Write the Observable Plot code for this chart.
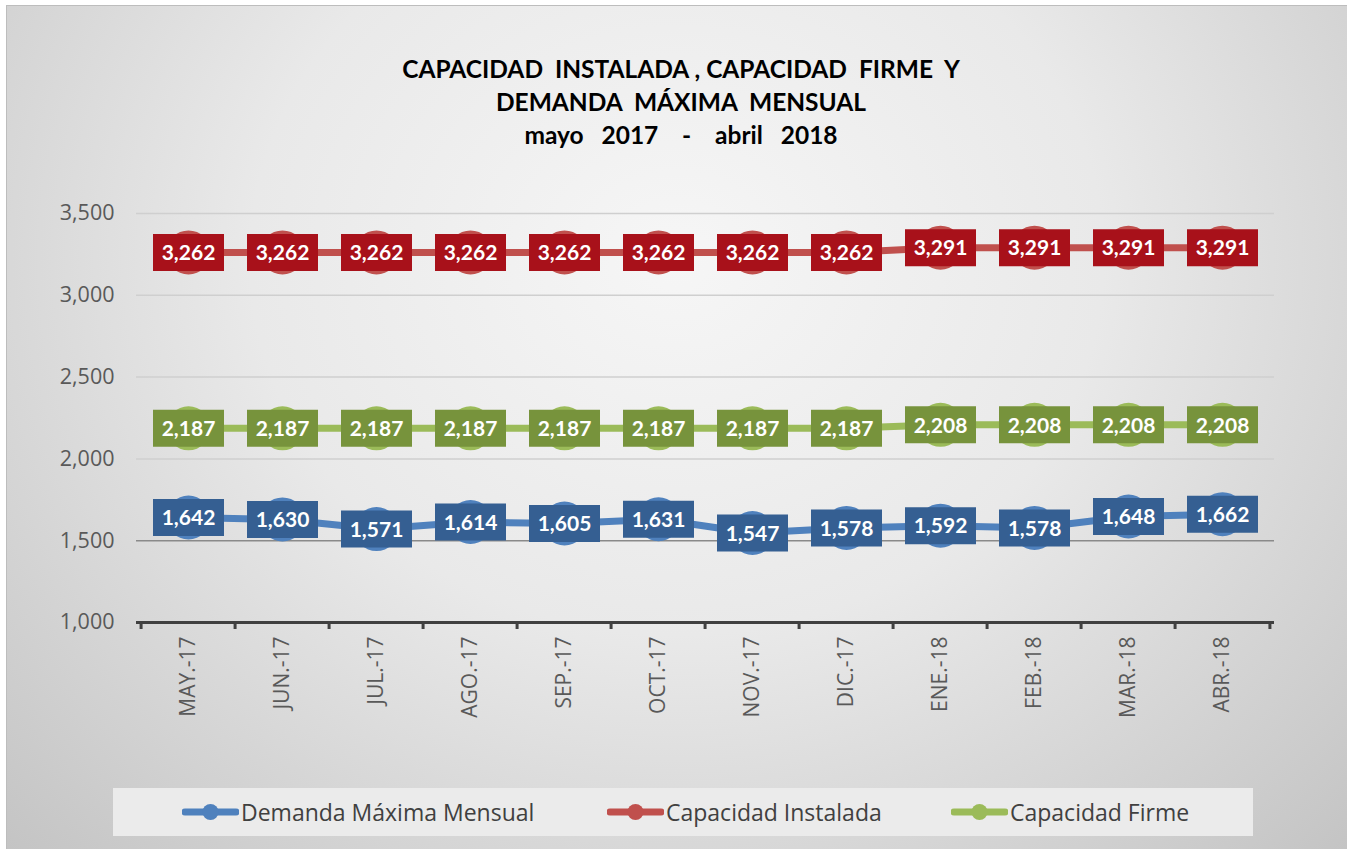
<!DOCTYPE html>
<html>
<head>
<meta charset="utf-8">
<script src="https://cdn.jsdelivr.net/npm/d3@7"></script>
<script src="https://cdn.jsdelivr.net/npm/@observablehq/plot@0.6"></script>
<style>
  html, body { margin: 0; padding: 0; background: #ffffff; }
  #frame {
    position: absolute; left: 6px; top: 5px; width: 1340px; height: 843px;
    background: radial-gradient(ellipse farthest-corner at 50% 30%, #f6f6f6 0%, #e9e9e9 45%, #c4c4c4 100%);
    border-left: 1px solid #bdbdbd; border-top: 1px solid #bdbdbd;
    overflow: hidden;
  }
  #title {
    position: absolute; left: 0; top: 46px; width: 1348px; text-align: center;
    font-family: Lato, sans-serif; font-weight: bold; font-size: 24.5px; line-height: 33px;
    color: #000; white-space: pre;
  }
  #chart { position: absolute; left: 0; top: 175px; }
  #legend {
    position: absolute; left: 106px; top: 782px; width: 1140px; height: 48px;
    background: #ebebeb;
    font-family: "Open Sans", sans-serif; font-size: 23px; color: #404040;
  }
  .item { position: absolute; top: 0; height: 48px; display: flex; align-items: center; }
  .item svg { margin-right: 2px; }
</style>
</head>
<body>
<div id="frame">
  <div id="title">CAPACIDAD  INSTALADA , CAPACIDAD  FIRME  Y
DEMANDA  MÁXIMA  MENSUAL
mayo   2017    -    abril   2018</div>
  <div id="chart"></div>
  <div id="legend"></div>
</div>
<script>
const months = ["MAY.-17","JUN.-17","JUL.-17","AGO.-17","SEP.-17","OCT.-17","NOV.-17","DIC.-17","ENE.-18","FEB.-18","MAR.-18","ABR.-18"];
const demanda = [1642,1630,1571,1614,1605,1631,1547,1578,1592,1578,1648,1662];
const instalada = [3262,3262,3262,3262,3262,3262,3262,3262,3291,3291,3291,3291];
const firme = [2187,2187,2187,2187,2187,2187,2187,2187,2208,2208,2208,2208];
const seriesNames = ["Demanda Máxima Mensual","Capacidad Instalada","Capacidad Firme"];
const yTicks = [1000,1500,2000,2500,3000,3500];

const lineColors = ["#4f81bd","#c0504d","#9bbb59"];
const boxColors = ["#355f92","#a8111a","#77933c"];

const seriesValues = [demanda, instalada, firme];
const rows = [];
seriesValues.forEach((vals, s) => vals.forEach((v, i) => rows.push({series: seriesNames[s], s, month: months[i], value: v})));

const W = 1340, H = 580, mL = 129, mR = 73, mT = 32, mB = 139;
const bw = (W - mL - mR) / months.length;

const boxSymbol = { draw(ctx) { ctx.rect(-35.5, -18.5, 71, 37); } };

const marks = [
  Plot.ruleY(yTicks.filter(t => t !== 1000 && t !== 1500), {stroke: "#cfcfcf", strokeWidth: 1.5}),
  Plot.ruleY([1500], {stroke: "#8a8a8a", strokeWidth: 1.5}),
  Plot.axisY({ticks: yTicks, tickSize: 0, tickPadding: 22, fontSize: 21.5, fill: "#595959", tickFormat: d3.format(","), label: null}),
  Plot.axisX({tickSize: 0, tickRotate: -90, tickPadding: 14, fontSize: 21, fill: "#595959", label: null}),
  Plot.ruleY([1000], {stroke: "#404040", strokeWidth: 3}),
  Plot.ruleX(months, {x: d => d, dx: -bw / 2, y1: 1000, y2: 1000, insetBottom: -7, stroke: "#404040", strokeWidth: 3}),
  Plot.ruleX(months.slice(-1), {x: d => d, dx: bw / 2, y1: 1000, y2: 1000, insetBottom: -7, stroke: "#404040", strokeWidth: 3})
];
seriesNames.forEach((name, s) => {
  const d = rows.filter(r => r.s === s);
  marks.push(Plot.line(d, {x: "month", y: "value", stroke: lineColors[s], strokeWidth: 7}));
  marks.push(Plot.dot(d, {x: "month", y: "value", r: 22, fill: lineColors[s], stroke: "none"}));
  marks.push(Plot.dot(d, {x: "month", y: "value", symbol: boxSymbol, r: 5, fill: boxColors[s], stroke: "none"}));
  marks.push(Plot.text(d, {x: "month", y: "value", text: r => d3.format(",")(r.value), fill: "white", fontSize: 21, fontWeight: "bold", fontFamily: "Lato", dy: 1}));
});

const chart = Plot.plot({
  width: W, height: H, marginTop: mT, marginBottom: mB, marginLeft: mL, marginRight: mR,
  style: {background: "transparent", fontFamily: "Open Sans", overflow: "visible"},
  x: {type: "band", domain: months, padding: 0, label: null, axis: null},
  y: {domain: [1000, 3500], label: null, axis: null},
  marks
});
document.getElementById("chart").appendChild(chart);

const legend = document.getElementById("legend");
const itemLeft = [69, 494, 838];
seriesNames.forEach((name, s) => {
  const item = document.createElement("div");
  item.className = "item";
  item.style.left = itemLeft[s] + "px";
  item.innerHTML = `<svg width="57" height="20"><line x1="3" y1="10" x2="54" y2="10" stroke="${lineColors[s]}" stroke-width="7" stroke-linecap="round"/><circle cx="28.5" cy="10" r="8" fill="${lineColors[s]}"/></svg><span>${name}</span>`;
  legend.appendChild(item);
});
</script>
</body>
</html>
